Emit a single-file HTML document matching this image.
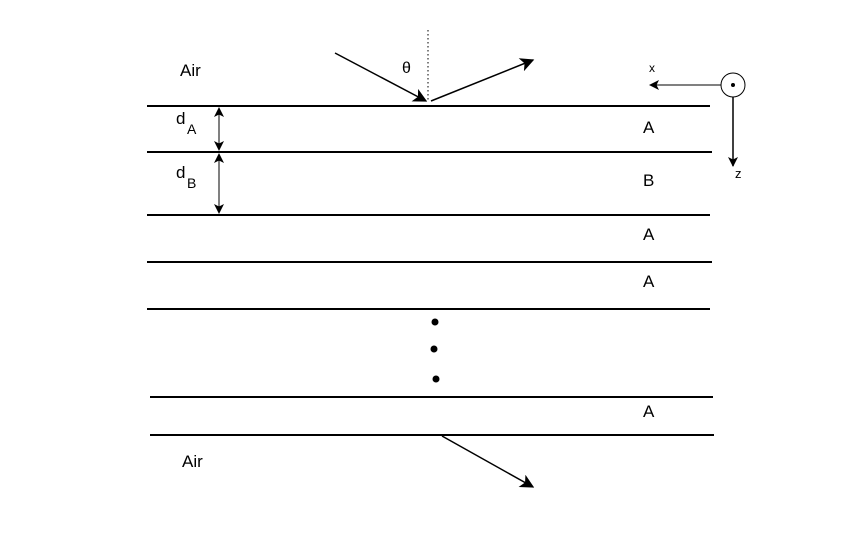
<!DOCTYPE html>
<html><head><style>body{margin:0;background:#fff}svg{display:block}</style></head><body>
<svg width="850" height="538" viewBox="0 0 850 538" xmlns="http://www.w3.org/2000/svg" font-family="Liberation Sans, sans-serif">
<defs>
<marker id="ah" viewBox="0 0 10 10" refX="9" refY="5" markerWidth="10" markerHeight="10" markerUnits="userSpaceOnUse" orient="auto-start-reverse"><path d="M0,0 L10,5 L0,10 L2.5,5 z" fill="#000"/></marker>
<marker id="ah2" viewBox="0 0 10 10" refX="9" refY="5" markerWidth="14" markerHeight="14" markerUnits="userSpaceOnUse" orient="auto-start-reverse"><path d="M0,0 L10,5 L0,10 L2.5,5 z" fill="#000"/></marker>
</defs>
<g stroke="#000" stroke-width="2">
<line x1="147" y1="106" x2="710" y2="106"/>
<line x1="147" y1="152" x2="712" y2="152"/>
<line x1="147" y1="215" x2="710" y2="215"/>
<line x1="147" y1="262" x2="712" y2="262"/>
<line x1="147" y1="309" x2="710" y2="309"/>
<line x1="150" y1="397" x2="713" y2="397"/>
<line x1="150" y1="435" x2="714" y2="435"/>
</g>
<line x1="428" y1="30" x2="428" y2="100" stroke="#000" stroke-width="1" stroke-dasharray="1.5,2.5"/>
<g stroke="#000" stroke-width="1.5" fill="none">
<line x1="335" y1="53" x2="426" y2="101" marker-end="url(#ah2)"/>
<line x1="431" y1="101" x2="533" y2="60" marker-end="url(#ah2)"/>
<line x1="442" y1="436" x2="533" y2="487" marker-end="url(#ah2)"/>
<line x1="219" y1="108" x2="219" y2="150" stroke-width="1" marker-start="url(#ah)" marker-end="url(#ah)"/>
<line x1="219" y1="154" x2="219" y2="213" stroke-width="1" marker-start="url(#ah)" marker-end="url(#ah)"/>
<line x1="721" y1="85" x2="650" y2="85" stroke-width="1" marker-end="url(#ah)"/>
<line x1="733" y1="97" x2="733" y2="166" marker-end="url(#ah)"/>
<circle cx="733" cy="85" r="12" stroke-width="1"/>
</g>
<circle cx="733" cy="85" r="2" fill="#000"/>
<circle cx="435" cy="322" r="3.5" fill="#000"/>
<circle cx="434" cy="349" r="3.5" fill="#000"/>
<circle cx="436" cy="379" r="3.5" fill="#000"/>
<g font-size="17" fill="#000">
<text x="180" y="76">Air</text>
<text x="182" y="467">Air</text>
<text x="643" y="133">A</text>
<text x="643" y="186">B</text>
<text x="643" y="240">A</text>
<text x="643" y="287">A</text>
<text x="643" y="417">A</text>
<text x="176" y="124">d</text><text x="187" y="134" font-size="14">A</text>
<text x="176" y="178">d</text><text x="187" y="188" font-size="14">B</text>
<text x="402" y="73" font-size="16">θ</text>
<text x="649" y="72" font-size="12">x</text>
<text x="735" y="178" font-size="13">z</text>
</g>
</svg>
</body></html>
